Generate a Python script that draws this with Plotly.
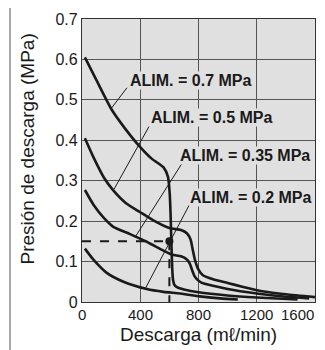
import plotly.graph_objects as go

# ---- data ----
x_07 = [20, 100, 200, 300, 400, 480, 560, 590, 602, 608, 612, 616, 620, 625, 635, 655, 700, 800, 1000, 1200, 1480]
y_07 = [0.605, 0.548, 0.478, 0.427, 0.383, 0.354, 0.333, 0.31, 0.27, 0.22, 0.17, 0.12, 0.08, 0.055, 0.042, 0.036, 0.031, 0.024, 0.016, 0.011, 0.006]

x_05 = [20, 80, 150, 215, 300, 400, 490, 600, 680, 720, 745, 760, 775, 800, 830, 900, 1000, 1100, 1250, 1400, 1600]
y_05 = [0.405, 0.357, 0.308, 0.276, 0.245, 0.222, 0.202, 0.183, 0.178, 0.17, 0.155, 0.13, 0.105, 0.08, 0.066, 0.056, 0.047, 0.038, 0.026, 0.019, 0.012]

x_035 = [20, 80, 150, 215, 330, 444, 560, 620, 680, 720, 740, 755, 770, 790, 820, 900, 1000, 1200, 1400, 1560]
y_035 = [0.277, 0.24, 0.208, 0.186, 0.168, 0.149, 0.127, 0.117, 0.113, 0.105, 0.095, 0.08, 0.066, 0.056, 0.048, 0.04, 0.032, 0.021, 0.013, 0.009]

x_02 = [20, 80, 170, 285, 445, 560, 675, 810, 950, 1070]
y_02 = [0.132, 0.104, 0.072, 0.05, 0.032, 0.025, 0.021, 0.014, 0.009, 0.006]

labels = ["ALIM. = 0.7 MPa", "ALIM. = 0.5 MPa", "ALIM. = 0.35 MPa", "ALIM. = 0.2 MPa"]
label_pos = [(742, 0.547), (886, 0.456), (1119, 0.362), (1154, 0.259)]
leader_from = [(309, 0.53), (460, 0.434), (687, 0.343), (735, 0.239)]
leader_to = [(199, 0.478), (220, 0.279), (364, 0.16), (433, 0.032)]

op_x, op_y = 600, 0.15

x_ticks = [0, 400, 800, 1200, 1600]
y_ticks = [0, 0.1, 0.2, 0.3, 0.4, 0.5, 0.6, 0.7]
y_ticktext = ["0", "0.1", "0.2", "0.3", "0.4", "0.5", "0.6", "0.7"]

x_title = "Descarga (mℓ/min)"
y_title = "Presión de descarga (MPa)"

FONT = "Liberation Sans, Arial, sans-serif"
INK = "#1a1a1a"

fig = go.Figure()
for xs, ys in [(x_07, y_07), (x_05, y_05), (x_035, y_035), (x_02, y_02)]:
    fig.add_trace(go.Scatter(x=xs, y=ys, mode="lines",
                             line=dict(color=INK, width=2.6, shape="spline", smoothing=0.6),
                             showlegend=False, hoverinfo="skip"))

# dashed operating point guides
fig.add_trace(go.Scatter(x=[0, op_x], y=[op_y, op_y], mode="lines",
                         line=dict(color=INK, width=2, dash="dash"), showlegend=False))
fig.add_trace(go.Scatter(x=[op_x, op_x], y=[op_y, 0], mode="lines",
                         line=dict(color=INK, width=2, dash="dash"), showlegend=False))
fig.add_trace(go.Scatter(x=[op_x], y=[op_y], mode="markers",
                         marker=dict(color=INK, size=8), showlegend=False))

shapes = []
for (x0, y0), (x1, y1) in zip(leader_from, leader_to):
    shapes.append(dict(type="line", xref="x", yref="y", x0=x0, y0=y0, x1=x1, y1=y1,
                       line=dict(color=INK, width=1)))
# outer frame (only left & top visible)
shapes.append(dict(type="rect", xref="paper", yref="paper", x0=-72 / 233, x1=1.3, y0=-0.4, y1=1 + 15 / 284,
                   line=dict(color="#555555", width=1), layer="above"))

annotations = []
for txt, (ax_, ay_) in zip(labels, label_pos):
    annotations.append(dict(x=ax_, y=ay_, xref="x", yref="y", text="<b>%s</b>" % txt, showarrow=False,
                            font=dict(family=FONT, size=16, color=INK),
                            bgcolor="#e0e0e0", borderpad=0))
# x tick labels
for v in x_ticks:
    annotations.append(dict(x=v, y=0, xref="x", yref="y", text=str(v), showarrow=False,
                            xanchor="right" if v == x_ticks[-1] else "center", yanchor="top", yshift=-3,
                            borderpad=0, font=dict(family=FONT, size=15, color=INK)))
# axis titles
annotations.append(dict(x=0.5, y=0, xref="paper", yref="paper", text=x_title, showarrow=False,
                        xanchor="center", yanchor="top", yshift=-21, borderpad=0,
                        font=dict(family=FONT, size=19, color=INK)))
annotations.append(dict(x=(28 - 82) / 233, y=(302 - 149) / 284, xref="paper", yref="paper", text=y_title,
                        showarrow=False, textangle=-90, xanchor="center", yanchor="middle",
                        font=dict(family=FONT, size=19, color=INK)))

fig.update_layout(
    width=325, height=350,
    margin=dict(l=74, r=18, t=11, b=56, autoexpand=False),
    paper_bgcolor="white",
    plot_bgcolor="#e0e0e0",
    font=dict(family=FONT, size=16, color=INK),
    shapes=shapes,
    annotations=annotations,
    showlegend=False,
)
fig.update_xaxes(range=[0, 1600], tickvals=x_ticks, showticklabels=False, automargin=False,
                 showgrid=True, gridcolor="#555555", gridwidth=1.3,
                 showline=True, linecolor="#333333", linewidth=1.3, mirror=True, zeroline=False,
                 ticks="")
fig.update_yaxes(range=[0, 0.7], tickvals=y_ticks, ticktext=y_ticktext, automargin=False,
                 showgrid=True, gridcolor="#555555", gridwidth=1.3,
                 showline=True, linecolor="#333333", linewidth=1.3, mirror=True, zeroline=False,
                 ticks="", tickfont=dict(size=16))

fig.write_html("out.html")
